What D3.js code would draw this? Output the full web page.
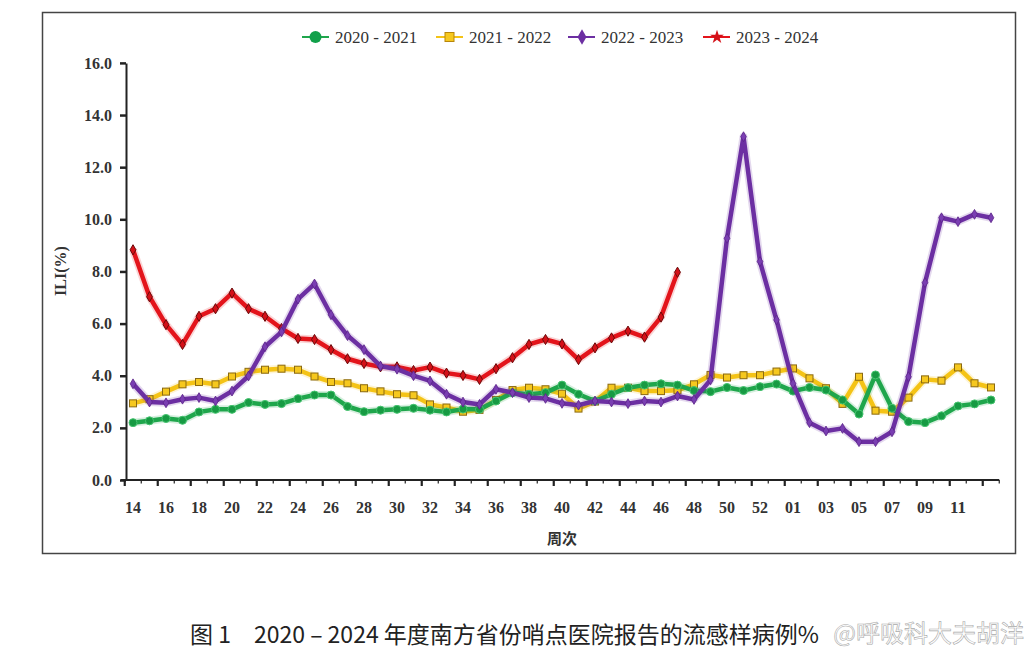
<!DOCTYPE html>
<html><head><meta charset="utf-8">
<script src="https://cdn.jsdelivr.net/npm/d3@7"></script>
<style>body{margin:0;background:#fff;}svg{display:block;}</style>
</head><body>
<script>
const weeks = ["14","15","16","17","18","19","20","21","22","23","24","25","26","27","28","29","30","31","32","33","34","35","36","37","38","39","40","41","42","43","44","45","46","47","48","49","50","51","52","53","01","02","03","04","05","06","07","08","09","10","11","12","13"];
const tickLabels = ["14","16","18","20","22","24","26","28","30","32","34","36","38","40","42","44","46","48","50","52","01","03","05","07","09","11"];
const yTicks = [0,2,4,6,8,10,12,14,16];
const seriesNames = ["2020 - 2021","2021 - 2022","2022 - 2023","2023 - 2024"];
const s2020 = [2.20,2.27,2.36,2.29,2.61,2.71,2.71,2.97,2.90,2.93,3.12,3.26,3.26,2.82,2.62,2.68,2.71,2.75,2.68,2.61,2.72,2.71,3.03,3.35,3.29,3.35,3.64,3.29,3.03,3.29,3.54,3.64,3.69,3.64,3.43,3.39,3.55,3.43,3.58,3.68,3.41,3.55,3.45,3.07,2.53,4.03,2.75,2.24,2.20,2.46,2.84,2.92,3.07];
const s2021 = [2.94,3.10,3.39,3.67,3.76,3.67,3.97,4.15,4.23,4.27,4.23,3.97,3.76,3.71,3.52,3.40,3.29,3.25,2.90,2.78,2.62,2.69,3.07,3.45,3.54,3.48,3.31,2.74,3.01,3.54,3.54,3.41,3.41,3.44,3.67,4.03,3.93,4.02,4.02,4.16,4.28,3.90,3.52,2.92,3.96,2.66,2.62,3.16,3.86,3.81,4.32,3.71,3.55];
const s2022 = [3.69,2.99,2.96,3.10,3.16,3.03,3.41,3.99,5.11,5.68,6.94,7.52,6.34,5.54,5.00,4.37,4.25,4.00,3.80,3.29,2.99,2.90,3.48,3.35,3.16,3.13,2.94,2.87,3.03,2.99,2.93,3.03,2.99,3.22,3.09,3.84,9.27,13.17,8.38,6.14,3.70,2.20,1.88,1.98,1.47,1.47,1.85,3.96,7.57,10.06,9.91,10.19,10.06];
const s2023 = [8.83,7.03,5.96,5.20,6.28,6.57,7.17,6.57,6.28,5.81,5.43,5.39,5.00,4.65,4.47,4.34,4.34,4.20,4.33,4.10,4.01,3.86,4.27,4.69,5.20,5.39,5.22,4.62,5.07,5.45,5.71,5.48,6.25,7.97];
const colors = ["#1fa64c","#f4c316","#6c2fa2","#e3141b"];
const caption = "图 1　2020 – 2024 年度南方省份哨点医院报告的流感样病例%";
const watermark = "@呼吸科大夫胡洋";

const W = 1031, H = 654;
const svg = d3.select("body").append("svg").attr("width", W).attr("height", H);

// frame
svg.append("rect").attr("x",42.5).attr("y",12.5).attr("width",973).attr("height",541)
  .attr("fill","none").attr("stroke","#444").attr("stroke-width",1.5);

const x = d3.scaleBand().domain(weeks).range([124.75, 999.25]).padding(0);
const y = d3.scaleLinear().domain([0,16]).range([480, 62.9]);
const cx = w => x(w) + x.bandwidth()/2;

// y axis
const yAxis = d3.axisLeft(y).tickValues(yTicks).tickFormat(d3.format(".1f")).tickSize(6).tickSizeOuter(0);
const gy = svg.append("g").attr("transform","translate(126,0)").call(yAxis);
gy.select(".domain").attr("stroke","#222").attr("stroke-width",2);
gy.selectAll(".tick line").attr("stroke","#222").attr("stroke-width",2.5);
gy.selectAll("text").attr("font-family","'Liberation Serif',serif").attr("font-weight","bold")
  .attr("font-size",16).attr("fill","#333").attr("x",-14);

// x axis line
svg.append("line").attr("x1",121).attr("x2",x.range()[1]).attr("y1",y(0)).attr("y2",y(0))
  .attr("stroke","#222").attr("stroke-width",2);
// x ticks at band boundaries
const bounds = weeks.map(w => x(w)).concat([x.range()[1]]);
svg.append("g").selectAll("line").data(bounds).join("line")
  .attr("x1",d=>d).attr("x2",d=>d).attr("y1",y(0))
  .attr("y2",(d,i)=> y(0) + (i%2===0 ? 6 : 3.5))
  .attr("stroke","#222").attr("stroke-width",(d,i)=> i%2===0 ? 2.2 : 1.2);
svg.append("g").selectAll("text").data(tickLabels).join("text")
  .attr("x",d=>cx(d)).attr("y",513).attr("text-anchor","middle")
  .attr("font-family","'Liberation Serif',serif").attr("font-weight","bold").attr("font-size",16)
  .attr("fill","#333").attr("textLength",16).attr("lengthAdjust","spacingAndGlyphs").text(d=>d);

// axis titles
svg.append("text").attr("x",562).attr("y",544).attr("text-anchor","middle")
  .attr("font-family","'Noto Sans CJK SC',sans-serif").attr("font-weight","bold").attr("font-size",15)
  .attr("fill","#333").text("周次");
svg.append("text").attr("transform","translate(66,271) rotate(-90)").attr("text-anchor","middle")
  .attr("font-family","'Liberation Serif',serif").attr("font-weight","bold").attr("font-size",16)
  .attr("fill","#333").text("ILI(%)");

// series
const series = [s2021, s2020, s2023, s2022];
const order = [1,0,3,2];
const line = d3.line().x((d,i)=>cx(weeks[i])).y(d=>y(d));
const diamond = d3.symbol().type(d3.symbolDiamond);

order.forEach((si, k) => {
  const data = series[k];
  const c = colors[si];
  const g = svg.append("g");
  g.append("path").attr("d",line(data)).attr("fill","none").attr("stroke",c)
    .attr("stroke-width",8).attr("stroke-opacity",0.18).attr("stroke-linejoin","round");
  g.append("path").attr("d",line(data)).attr("fill","none").attr("stroke",c)
    .attr("stroke-width",4.5).attr("stroke-linejoin","round");
  const pts = g.selectAll(".m").data(data).join("g")
    .attr("transform",(d,i)=>`translate(${cx(weeks[i])},${y(d)})`);
  if (si===0) pts.append("circle").attr("r",4).attr("fill","#179a43").attr("stroke","#45c46f").attr("stroke-width",1);
  if (si===1) pts.append("rect").attr("x",-3.5).attr("y",-3.5).attr("width",7).attr("height",7)
      .attr("fill","#f6c81e").attr("stroke","#8b6a12").attr("stroke-width",1);
  if (si===2) pts.append("path").attr("d",diamond.size(28)()).attr("fill","#7a3eb2").attr("stroke","#5a2388").attr("stroke-width",0.8);
  if (si===3) pts.append("path").attr("d",diamond.size(30)()).attr("fill","#d41018").attr("stroke","#6b0a0a").attr("stroke-width",1);
});

// legend
const legX = [302, 436, 568, 703];
const leg = svg.append("g");
seriesNames.forEach((n, i) => {
  const g = leg.append("g").attr("transform",`translate(${legX[i]},37)`);
  g.append("line").attr("x1",0).attr("x2",27).attr("stroke",colors[i]).attr("stroke-width",2);
  if (i===0) g.append("circle").attr("cx",13.5).attr("r",6).attr("fill","#11a04a");
  if (i===1) g.append("rect").attr("x",9).attr("y",-4.5).attr("width",9).attr("height",9).attr("fill","#f6c81e").attr("stroke","#b8860b").attr("stroke-width",1);
  if (i===2) g.append("path").attr("transform","translate(14,0)").attr("d",diamond.size(70)()).attr("fill","#6c2fa2");
  if (i===3) g.append("path").attr("transform","translate(14,0)").attr("d",d3.symbol().type(d3.symbolStar).size(60)()).attr("fill","#d41018");
  g.append("text").attr("x",33).attr("y",6).attr("font-family","'Liberation Serif',serif")
    .attr("font-size",17).attr("fill","#333").text(n);
});

// caption
svg.append("text").attr("x",190).attr("y",643).attr("font-family","'Noto Sans CJK SC',sans-serif")
  .attr("font-size",23).attr("fill","#222").text(caption);
svg.append("text").attr("x",1024).attr("y",642).attr("text-anchor","end").attr("font-family","'Noto Sans CJK SC',sans-serif")
  .attr("font-size",24).attr("fill","#ffffff").attr("fill-opacity",0.8).attr("stroke","#aaa").attr("stroke-width",0.6).text(watermark);
</script>
</body></html>
